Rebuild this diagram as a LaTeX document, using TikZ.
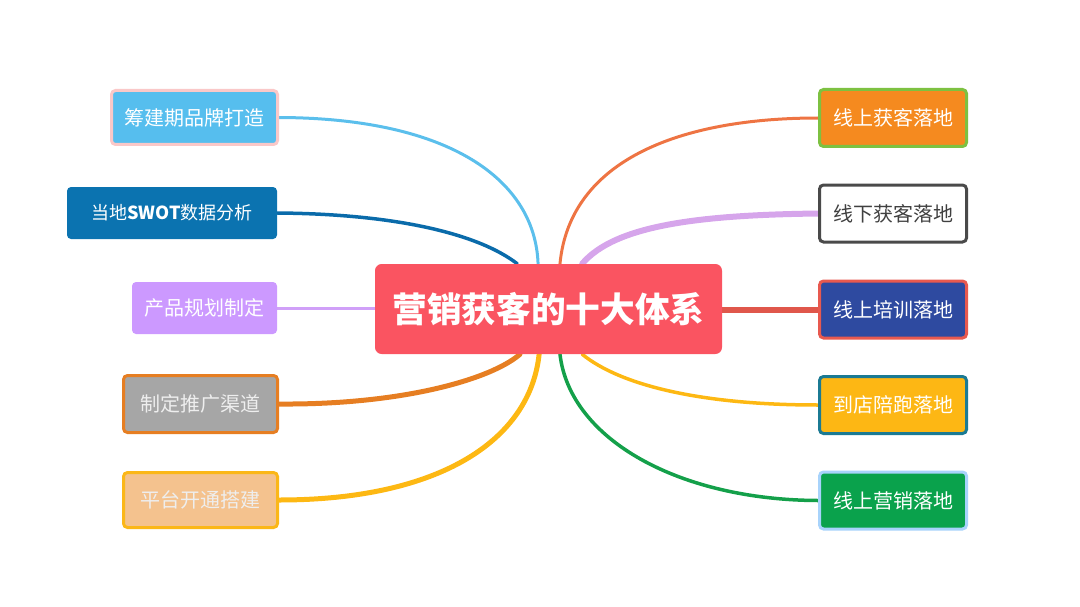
\documentclass[tikz,border=0pt]{standalone}
\usepackage{fontspec}
\newfontfamily\cjk{Noto Sans CJK SC}
\usetikzlibrary{calc,backgrounds}
\definecolor{cfill}{HTML}{FA5461}
\definecolor{lafill}{HTML}{56BEEE}\definecolor{ladraw}{HTML}{FAC8C8}
\definecolor{lbfill}{HTML}{0B73B0}
\definecolor{lcfill}{HTML}{CC99FF}
\definecolor{ldfill}{HTML}{A6A6A6}\definecolor{lddraw}{HTML}{E67E22}
\definecolor{lefill}{HTML}{F4C28E}\definecolor{ledraw}{HTML}{FBB718}
\definecolor{rafill}{HTML}{F58A1F}\definecolor{radraw}{HTML}{7DC141}
\definecolor{rbdraw}{HTML}{4A4A4A}\definecolor{rbtext}{HTML}{404040}
\definecolor{rcfill}{HTML}{2E4AA0}\definecolor{rcdraw}{HTML}{E8594F}
\definecolor{rdfill}{HTML}{FDB714}\definecolor{rddraw}{HTML}{1B7A93}
\definecolor{refill}{HTML}{0AA24C}\definecolor{redraw}{HTML}{A8D3FB}
\definecolor{kla}{HTML}{5BBFEC}\definecolor{klb}{HTML}{0A6BAA}
\definecolor{klc}{HTML}{D0A0F8}\definecolor{kld}{HTML}{E67E22}
\definecolor{kle}{HTML}{FDB813}\definecolor{kra}{HTML}{EE7443}
\definecolor{krb}{HTML}{D6A5EB}\definecolor{krc}{HTML}{E0574B}
\definecolor{krd}{HTML}{FDB813}\definecolor{kre}{HTML}{14A04A}
\definecolor{lighttxt}{HTML}{EEEEEE}
\tikzset{
  px/.style={line width=#1*0.75pt},
  topic/.style={rounded corners=3pt, inner sep=0pt, align=center,
    font=\cjk\fontsize{15}{18}\selectfont, text=white},
  central/.style={rounded corners=5pt, inner sep=0pt, fill=cfill, text=white,
    font=\cjk\bfseries\fontsize{26}{30}\selectfont, minimum width=347*0.75pt, minimum height=90*0.75pt},
  rbox/.style={topic, minimum width=147*0.75pt, minimum height=57*0.75pt, px=3},
  link/.style={line cap=round}
}
\begin{document}
\begin{tikzpicture}[x=0.75pt,y=-0.75pt]
\useasboundingbox (0,0) rectangle (1080,606);
% central
\node[central] (c) at (548.5,309) {营销获客的十大体系};
% left nodes
\node[topic, fill=lafill, draw=ladraw, px=3, minimum width=166*0.75pt, minimum height=54*0.75pt] (L1) at (194.5,117.5) {筹建期品牌打造};
\node[topic, fill=lbfill, minimum width=210*0.75pt, minimum height=52*0.75pt, font=\cjk\fontsize{13.5}{16}\selectfont] (L2) at (172,213) {当地\textbf{SWOT}数据分析};
\node[topic, fill=lcfill, minimum width=145*0.75pt, minimum height=52*0.75pt] (L3) at (204.5,308) {产品规划制定};
\node[topic, fill=ldfill, draw=lddraw, px=3, text=lighttxt, minimum width=154*0.75pt, minimum height=57*0.75pt] (L4) at (200.5,404) {制定推广渠道};
\node[topic, fill=lefill, draw=ledraw, px=3, text=lighttxt, minimum width=154*0.75pt, minimum height=55*0.75pt] (L5) at (200.5,500) {平台开通搭建};
% right nodes
\node[rbox, fill=rafill, draw=radraw] (R1) at (893,118) {线上获客落地};
\node[rbox, fill=white, draw=rbdraw, text=rbtext] (R2) at (893,213.5) {线下获客落地};
\node[rbox, fill=rcfill, draw=rcdraw] (R3) at (893,309.5) {线上培训落地};
\node[rbox, fill=rdfill, draw=rddraw] (R4) at (893,405) {到店陪跑落地};
\node[rbox, fill=refill, draw=redraw] (R5) at (893,500.5) {线上营销落地};
% anchor points on central node
\coordinate (cn1) at ($(c.north west)!0.47!(c.north east)$);
\coordinate (cn2) at ($(c.north west)!0.41!(c.north east)$);
\coordinate (cn3) at ($(c.north west)!0.533!(c.north east)$);
\coordinate (cn4) at ($(c.north west)!0.597!(c.north east)$);
\coordinate (cs1) at ($(c.south west)!0.418!(c.south east)$);
\coordinate (cs2) at ($(c.south west)!0.473!(c.south east)$);
\coordinate (cs3) at ($(c.south west)!0.533!(c.south east)$);
\coordinate (cs4) at ($(c.south west)!0.597!(c.south east)$);
% connectors (behind nodes)
\begin{pgfonlayer}{background}
\draw[link, kla, px=3] (L1.east) .. controls (450,118) and (535,180) .. (cn1);
\draw[link, klb, px=3.5] (L2.east) .. controls (400,214) and (480,235) .. (cn2);
\draw[link, klc, px=3] (L3.east) -- (L3.east -| c.west);
\draw[link, kld, px=5] (L4.east) .. controls (400,405) and (490,380) .. (cs1);
\draw[link, kle, px=5] (L5.east) .. controls (440,500) and (530,440) .. (cs2);
\draw[link, kra, px=3] (cn3) .. controls (570,160) and (680,118) .. (R1.west);
\draw[link, krb, px=6] (cn4) .. controls (615,225) and (700,215) .. (R2.west);
\draw[link, krc, px=6] (c.east |- R3.west) -- (R3.west);
\draw[link, krd, px=3.5] (cs4) .. controls (620,385) and (700,405) .. (R4.west);
\draw[link, kre, px=3.5] (cs3) .. controls (570,440) and (680,500) .. (R5.west);
\end{pgfonlayer}
\end{tikzpicture}
\end{document}
